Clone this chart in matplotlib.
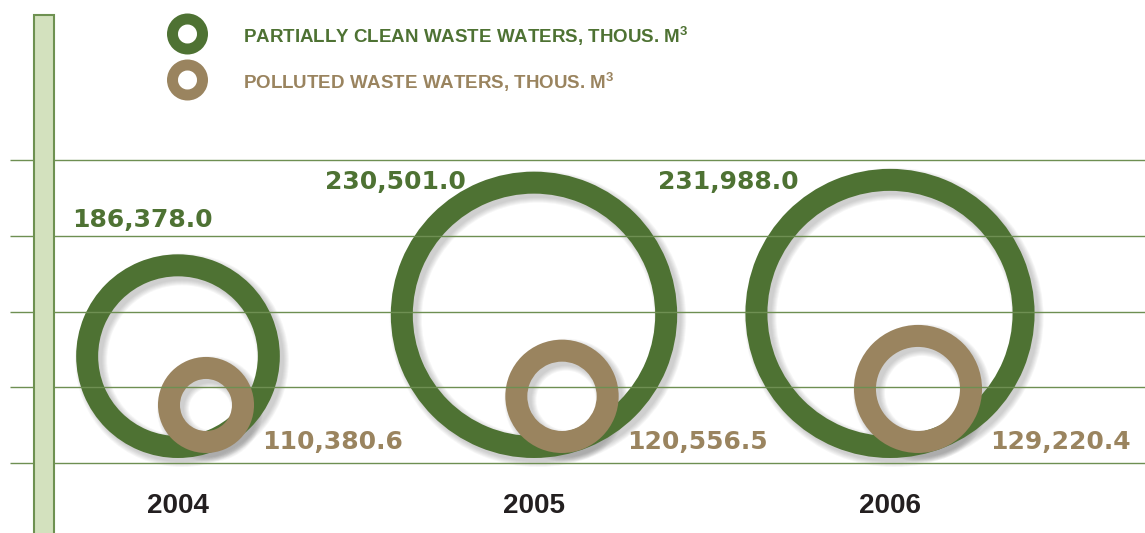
import numpy as np
import matplotlib
matplotlib.use("Agg")
import matplotlib.pyplot as plt
from matplotlib.patches import Wedge, Rectangle

# data
years = ["2004", "2005", "2006"]
clean = [186378.0, 230501.0, 231988.0]      # partially clean waste waters
polluted = [110380.6, 120556.5, 129220.4]   # polluted waste waters
legend_labels = ["PARTIALLY CLEAN WASTE WATERS, THOUS. M$^\\mathrm{3}$",
                 "POLLUTED WASTE WATERS, THOUS. M$^\\mathrm{3}$"]

# colours
GREEN = "#4E7233"
BROWN = "#9A845F"
LINE = "#6E8F52"
BAR_FILL = "#D3E1BE"
BAR_EDGE = "#6E9151"
DARK = "#231F20"

plt.rcParams["mathtext.fontset"] = "custom"
plt.rcParams["mathtext.rm"] = "Liberation Sans:bold"
plt.rcParams["mathtext.bf"] = "Liberation Sans:bold"

fig = plt.figure(figsize=(11.45, 5.33), dpi=100)
ax = fig.add_axes([0, 0, 1, 1])
ax.set_xlim(0, 1145)
ax.set_ylim(533, 0)
ax.axis("off")

# layout (pixel space of the axes)
slot_x = lambda i: 178 + 356 * i
green_r = lambda v: 0.000937 * v - 72.8
brown_r = lambda v: 0.00085 * v - 45.8
green_bottom = 458
brown_bottom = 453
brown_dx = 28
ring_w = 22
# value label offsets for the green rings (left, baseline) relative to centre
green_lab_dx = [-106, -209, -232]
green_lab_dy = [-129, -126, -124]


def ring(cx, cy, r, w, color, shadow=True):
    if shadow:
        for k in range(6):
            ax.add_patch(Wedge((cx + 4, cy + 4), r + k, 0, 360, width=w + 2 * k,
                               color="#555555", alpha=0.05, lw=0, zorder=2))
    ax.add_patch(Wedge((cx, cy), r, 0, 360, width=w, color=color, lw=0, zorder=3))


for i, yr in enumerate(years):
    cx = slot_x(i)
    rg = green_r(clean[i])
    cy = green_bottom - rg
    ring(cx, cy, rg, ring_w, GREEN)
    ax.text(cx + green_lab_dx[i], cy + green_lab_dy[i], f"{clean[i]:,.1f}",
            color=GREEN, fontsize=18, fontweight="bold", family="DejaVu Sans",
            ha="left", va="baseline", zorder=7)

    bx = cx + brown_dx
    rb = brown_r(polluted[i])
    by = brown_bottom - rb
    ring(bx, by, rb, ring_w, BROWN)
    ax.text(bx + rb + 8, brown_bottom - 4, f"{polluted[i]:,.1f}",
            color=BROWN, fontsize=18, fontweight="bold", family="DejaVu Sans",
            ha="left", va="baseline", zorder=7)

    ax.text(cx, 513, yr, color=DARK, fontsize=20, fontweight="bold",
            family="Liberation Sans", ha="center", va="baseline", zorder=7)

# horizontal guide lines drawn over the rings
grid_y = np.linspace(160, 463, 5)
ax.hlines(grid_y, 10, 1145, color=LINE, lw=1.0, zorder=5)

# vertical bar on the left
ax.add_patch(Rectangle((34, 15), 20, 540, facecolor=BAR_FILL, edgecolor=BAR_EDGE,
                       lw=1.5, zorder=6))

# legend
for j, (lab, col) in enumerate(zip(legend_labels, [GREEN, BROWN])):
    ly = 34 + 46 * j
    ring(187.5, ly, 20.5, 11, col, shadow=False)
    ax.text(243, ly + 9, lab, color=col, fontsize=13.5, fontweight="bold",
            family="Liberation Sans", ha="left", va="baseline")

fig.savefig("out.png", dpi=100)
